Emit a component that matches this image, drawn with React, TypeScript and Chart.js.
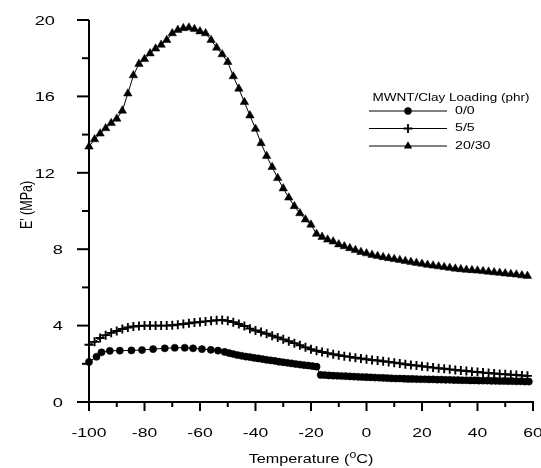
import React, { useEffect, useRef } from "react";
import { Chart, registerables } from "chart.js";

Chart.register(...registerables);

// ---------- data ----------
const seriesLabels = ["0/0", "5/5", "20/30"];
const legendTitle = "MWNT/Clay Loading (phr)";
const xTitleParts = ["Temperature (", "0", "C)"];
const yTitle = "E' (MPa)";

const temps0 = [
  -100, -97.3, -95.5, -92.5, -88.9, -84.7, -80.9, -76.9, -72.7, -69.1, -65.5, -62.5, -59.3, -56.1, -53.5, -51.1,
  -49.5, -48, -46.5, -45, -43.5, -42, -40.5, -39, -37.5, -36, -34.5, -33, -31.5, -30, -28.5, -27, -25.5, -24,
  -22.5, -21, -19.5, -18, -16.5, -15, -13.5, -12, -10.5, -9, -7.5, -6, -4.5, -3, -1.5, 0, 1.5, 3, 4.5, 6, 7.5,
  9, 10.5, 12, 13.5, 15, 16.5, 18, 19.5, 21, 22.5, 24, 25.5, 27, 28.5, 30, 31.5, 33, 34.5, 36, 37.5, 39, 40.5,
  42, 43.5, 45, 46.5, 48, 49.5, 51, 52.5, 54, 55.5, 57, 58.5,
];
const e0 = [
  2.1, 2.37, 2.6, 2.68, 2.69, 2.7, 2.72, 2.77, 2.81, 2.84, 2.84, 2.81, 2.77, 2.73, 2.69, 2.62,
  2.56, 2.51, 2.46, 2.42, 2.38, 2.35, 2.31, 2.28, 2.25, 2.21, 2.18, 2.15, 2.11, 2.08, 2.05, 2.02, 1.99, 1.96,
  1.93, 1.91, 1.88, 1.85, 1.42, 1.41, 1.39, 1.38, 1.37, 1.36, 1.35, 1.34, 1.33, 1.32, 1.31, 1.3, 1.29, 1.28, 1.27, 1.26, 1.25,
  1.24, 1.23, 1.23, 1.22, 1.21, 1.21, 1.2, 1.19, 1.19, 1.18, 1.18, 1.17, 1.17, 1.16, 1.16, 1.15, 1.15, 1.14, 1.14, 1.13, 1.13, 1.12,
  1.12, 1.12, 1.11, 1.11, 1.1, 1.1, 1.09, 1.09, 1.08, 1.08, 1.07, 1.07,
];

const temps5 = [
  -100, -98, -96, -94, -92, -90, -88, -86, -84, -82,
  -80, -78, -76, -74, -72, -70, -68, -66, -64, -62,
  -60, -58, -56, -54, -52, -50, -48, -46, -44, -42,
  -40, -38, -36, -34, -32, -30, -28, -26, -24, -22,
  -20, -18, -16, -14, -12, -10, -8, -6, -4, -2,
  0, 2, 4, 6, 8, 10, 12, 14, 16, 18,
  20, 22, 24, 26, 28, 30, 32, 34, 36, 38,
  40, 42, 44, 46, 48, 50, 52, 54, 56, 58,
];
const e5 = [
  3.0, 3.15, 3.35, 3.5, 3.62, 3.72, 3.82, 3.9, 3.95, 3.98,
  4.0, 4.0, 4.0, 4.0, 4.0, 4.02, 4.05, 4.08, 4.12, 4.16,
  4.19, 4.22, 4.25, 4.28, 4.29, 4.25, 4.18, 4.08, 3.98, 3.84,
  3.74, 3.66, 3.57, 3.47, 3.38, 3.28, 3.18, 3.08, 2.97, 2.86,
  2.76, 2.68, 2.62, 2.56, 2.5, 2.45, 2.4, 2.36, 2.32, 2.28,
  2.24, 2.2, 2.17, 2.13, 2.1, 2.06, 2.02, 1.98, 1.94, 1.91,
  1.87, 1.84, 1.8, 1.77, 1.74, 1.71, 1.68, 1.65, 1.62, 1.59,
  1.57, 1.54, 1.52, 1.49, 1.47, 1.45, 1.43, 1.41, 1.39, 1.37,
];

const temps20 = [
  -100, -98, -96, -94, -92, -90, -88, -86, -84, -82,
  -80, -78, -76, -74, -72, -70, -68, -66, -64, -62,
  -60, -58, -56, -54, -52, -50, -48, -46, -44, -42,
  -40, -38, -36, -34, -32, -30, -28, -26, -24, -22,
  -20, -18, -16, -14, -12, -10, -8, -6, -4, -2,
  0, 2, 4, 6, 8, 10, 12, 14, 16, 18,
  20, 22, 24, 26, 28, 30, 32, 34, 36, 38,
  40, 42, 44, 46, 48, 50, 52, 54, 56, 58,
];
const e20 = [
  13.37, 13.75, 14.05, 14.33, 14.6, 14.83, 15.25, 16.15, 17.1, 17.7,
  17.95, 18.25, 18.5, 18.7, 18.95, 19.3, 19.48, 19.57, 19.6, 19.52,
  19.4, 19.3, 18.95, 18.55, 18.2, 17.8, 17.05, 16.4, 15.7, 15.0,
  14.3, 13.55, 12.88, 12.3, 11.72, 11.18, 10.7, 10.25, 9.88, 9.55,
  9.28, 8.8, 8.64, 8.5, 8.4, 8.25, 8.15, 8.05, 7.95, 7.85,
  7.78, 7.7, 7.64, 7.58, 7.53, 7.48, 7.43, 7.38, 7.33, 7.28,
  7.23, 7.18, 7.14, 7.1, 7.06, 7.02, 6.98, 6.95, 6.92, 6.9,
  6.88, 6.85, 6.82, 6.79, 6.76, 6.73, 6.7, 6.67, 6.63, 6.6,
];

const xMin = -100;
const xMax = 60;
const xStep = 10;
const xLabelStep = 20;
const yMin = 0;
const yMax = 20;
const yStep = 2;
const yLabelStep = 4;

// ---------- styling helpers ----------
const FONT = "'Liberation Sans', Arial, sans-serif";
const SX = 1.35; // horizontal stretch of the original figure's text

function pairs(xs: number[], ys: number[]) {
  return xs.map((x, i) => ({ x, y: ys[i] }));
}

function stretchedText(
  ctx: CanvasRenderingContext2D,
  text: string,
  x: number,
  y: number,
  align: CanvasTextAlign,
  font: string
) {
  ctx.save();
  ctx.font = font;
  ctx.translate(x, y);
  ctx.scale(SX, 1);
  ctx.textAlign = align;
  ctx.textBaseline = "middle";
  ctx.fillText(text, 0, 0);
  ctx.restore();
}

function drawMarker(ctx: CanvasRenderingContext2D, style: string, x: number, y: number) {
  ctx.save();
  ctx.fillStyle = "#000";
  ctx.strokeStyle = "#000";
  if (style === "circle") {
    ctx.beginPath();
    ctx.arc(x, y, 3.7, 0, Math.PI * 2);
    ctx.fill();
  } else if (style === "cross") {
    ctx.lineWidth = 1.8;
    ctx.beginPath();
    ctx.moveTo(x - 4.4, y);
    ctx.lineTo(x + 4.4, y);
    ctx.moveTo(x, y - 4.4);
    ctx.lineTo(x, y + 4.4);
    ctx.stroke();
  } else {
    const r = 4.8;
    ctx.beginPath();
    for (let k = 0; k < 3; k++) {
      const a = (k * 2 * Math.PI) / 3;
      const px = x + Math.sin(a) * r;
      const py = y - Math.cos(a) * r;
      if (k === 0) ctx.moveTo(px, py);
      else ctx.lineTo(px, py);
    }
    ctx.closePath();
    ctx.fill();
  }
  ctx.restore();
}

const axisPlugin = {
  id: "paperAxes",
  afterDraw(chart: any) {
    const ctx: CanvasRenderingContext2D = chart.ctx;
    const xs = chart.scales.x;
    const ys = chart.scales.y;
    const { left, right, top, bottom } = chart.chartArea;
    ctx.save();
    ctx.strokeStyle = "#000";
    ctx.fillStyle = "#000";
    ctx.lineWidth = 2;
    ctx.lineCap = "butt";

    // axis lines
    ctx.beginPath();
    ctx.moveTo(left, top);
    ctx.lineTo(left, bottom);
    ctx.moveTo(left - 1, bottom);
    ctx.lineTo(right + 1, bottom);
    ctx.stroke();

    // x ticks
    xs.ticks.forEach((t: any) => {
      const px = xs.getPixelForValue(t.value);
      const major = Math.abs(t.value % xLabelStep) < 1e-6;
      ctx.beginPath();
      ctx.moveTo(px, bottom);
      ctx.lineTo(px, bottom + (major ? 9 : 5));
      ctx.stroke();
      if (major) {
        stretchedText(ctx, String(t.value), px, bottom + 31, "center", `13px ${FONT}`);
      }
    });

    // y ticks
    ys.ticks.forEach((t: any) => {
      const py = ys.getPixelForValue(t.value);
      const major = Math.abs(t.value % yLabelStep) < 1e-6;
      ctx.beginPath();
      ctx.moveTo(left, py);
      ctx.lineTo(left - (major ? 12 : 7), py);
      ctx.stroke();
      if (major) {
        const label = String(t.value);
        const rightEdge = label.length > 1 ? left - 34 : left - 26;
        stretchedText(ctx, label, rightEdge, py + 1, "right", `13.5px ${FONT}`);
      }
    });

    // y title (rotated)
    ctx.save();
    ctx.translate(27, 205);
    ctx.scale(SX, 1);
    ctx.rotate(-Math.PI / 2);
    ctx.font = `12.5px ${FONT}`;
    ctx.textAlign = "center";
    ctx.textBaseline = "middle";
    ctx.fillText(yTitle, 0, 0);
    ctx.restore();

    // x title with superscript
    const mainFont = `12px ${FONT}`;
    const supFont = `9px ${FONT}`;
    ctx.font = mainFont;
    const w1 = ctx.measureText(xTitleParts[0]).width;
    const w3 = ctx.measureText(xTitleParts[2]).width;
    ctx.font = supFont;
    const w2 = ctx.measureText(xTitleParts[1]).width;
    const total = (w1 + w2 + w3) * SX;
    let cx = 311 - total / 2;
    const ty = 460;
    stretchedText(ctx, xTitleParts[0], cx, ty, "left", mainFont);
    cx += w1 * SX;
    stretchedText(ctx, xTitleParts[1], cx, ty - 4, "left", supFont);
    cx += w2 * SX;
    stretchedText(ctx, xTitleParts[2], cx, ty, "left", mainFont);

    // legend
    stretchedText(ctx, legendTitle, 451, 98, "center", `10px ${FONT}`);
    const rowsY = [111, 128.5, 146];
    chart.data.datasets.forEach((ds: any, i: number) => {
      const y = rowsY[i];
      ctx.lineWidth = 1;
      ctx.beginPath();
      ctx.moveTo(369, y);
      ctx.lineTo(447, y);
      ctx.stroke();
      drawMarker(ctx, ds.pointStyle, 408, y);
      stretchedText(ctx, ds.label, 455, y, "left", `10.5px ${FONT}`);
    });

    ctx.restore();
  },
};

export default function App() {
  const ref = useRef<HTMLCanvasElement>(null);

  useEffect(() => {
    const canvas = ref.current;
    if (!canvas) return;
    const common = {
      borderColor: "#000",
      borderWidth: 1,
      pointBackgroundColor: "#000",
      pointBorderColor: "#000",
      tension: 0,
      fill: false,
      clip: false as any,
    };
    const chart = new Chart(canvas, {
      type: "line",
      data: {
        datasets: [
          {
            ...common,
            label: seriesLabels[0],
            data: pairs(temps0, e0),
            pointStyle: "circle",
            pointRadius: 3.6,
            pointBorderWidth: 0.5,
          },
          {
            ...common,
            label: seriesLabels[1],
            data: pairs(temps5, e5),
            pointStyle: "cross",
            pointRadius: 4.5,
            pointBorderWidth: 1.9,
          },
          {
            ...common,
            label: seriesLabels[2],
            data: pairs(temps20, e20),
            pointStyle: "triangle",
            pointRadius: 4.9,
            pointBorderWidth: 0.5,
          },
        ] as any,
      },
      options: {
        responsive: false,
        animation: false,
        events: [],
        layout: { padding: { top: 20, right: 8, left: 0, bottom: 0 } },
        plugins: {
          legend: { display: false },
          tooltip: { enabled: false },
        },
        scales: {
          x: {
            type: "linear",
            min: xMin,
            max: xMax,
            ticks: { stepSize: xStep, display: false },
            grid: { display: false },
            border: { display: false },
            afterFit: (s: any) => {
              s.height = 66;
            },
          },
          y: {
            type: "linear",
            min: yMin,
            max: yMax,
            ticks: { stepSize: yStep, display: false },
            grid: { display: false },
            border: { display: false },
            afterFit: (s: any) => {
              s.width = 89;
            },
          },
        },
      } as any,
      plugins: [axisPlugin],
    });
    return () => chart.destroy();
  }, []);

  return (
    <div style={{ position: "fixed", left: 0, top: 0, width: 541, height: 468, background: "#fff" }}>
      <canvas ref={ref} width={541} height={468} style={{ display: "block" }} />
    </div>
  );
}
